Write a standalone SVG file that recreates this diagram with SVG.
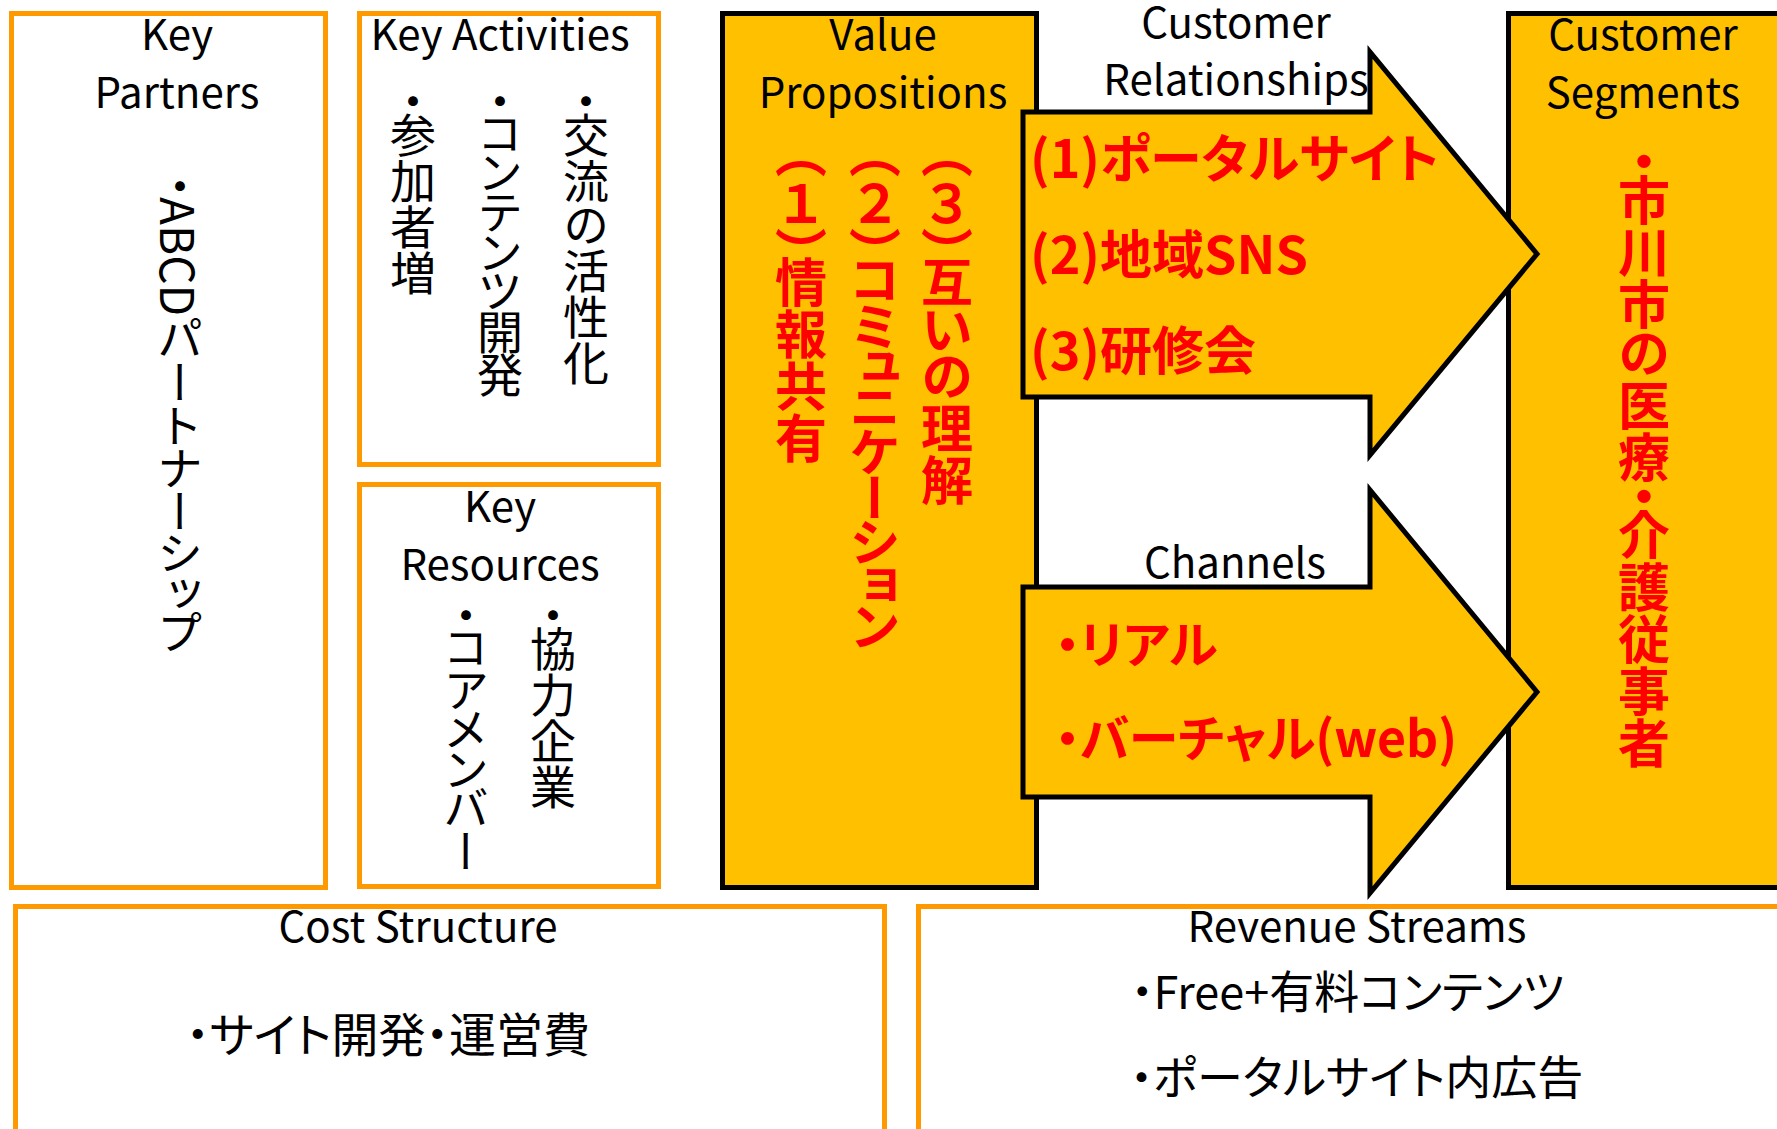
<svg xmlns="http://www.w3.org/2000/svg" width="1777" height="1129" viewBox="0 0 1777 1129">
<style>
.box{fill:#fff;stroke:#FF9900;stroke-width:5}
.yel{fill:#FFC000;stroke:#000;stroke-width:5;stroke-linejoin:miter}
text{font-family:"Noto Sans CJK JP","Noto Sans CJK SC",sans-serif;fill:#000}
.t{font-size:42px;text-anchor:middle}
.v{font-size:46px;writing-mode:vertical-rl;font-feature-settings:"vpal"}
.vr{font-size:52px;writing-mode:vertical-rl;font-feature-settings:"vpal";fill:#FF0000;font-weight:bold}
.hr{font-size:52px;fill:#FF0000;font-weight:bold;font-feature-settings:"palt"}
.hc{font-size:50px;fill:#FF0000;font-weight:bold;font-feature-settings:"palt"}
.hb{font-feature-settings:"palt"}
</style>
<rect width="1777" height="1129" fill="#fff"/>
<g id="key-partners">
<rect class="box" x="11.5" y="13.5" width="314" height="874"/>
<text class="t" x="177" y="50">Key</text>
<text class="t" x="177" y="108">Partners</text>
<text class="v" x="180" y="174">・ABCDパートナーシップ</text>
</g>
<g id="key-activities">
<rect class="box" x="359.5" y="13.5" width="299" height="451"/>
<text class="t" x="500" y="50">Key Activities</text>
<text class="v" x="586" y="89">・交流の活性化</text>
<text class="v" x="500" y="89" letter-spacing="-2.3">・コンテンツ開発</text>
<text class="v" x="413" y="89">・参加者増</text>
</g>
<g id="key-resources">
<rect class="box" x="359.5" y="484.5" width="299" height="402"/>
<text class="t" x="500" y="522">Key</text>
<text class="t" x="500" y="580">Resources</text>
<text class="v" x="553" y="603">・協力企業</text>
<text class="v" x="466" y="603" letter-spacing="-1.8">・コアメンバー</text>
</g>
<g id="value-propositions">
<rect class="yel" x="722.5" y="13.5" width="314" height="874"/>
<text class="t" x="883" y="50">Value</text>
<text class="t" x="883" y="108">Propositions</text>
<text class="vr" x="801" y="150">（<tspan dy="3">１</tspan><tspan dy="3">）情報共有</tspan></text>
<text class="vr" x="875" y="150">（<tspan dy="3">２</tspan><tspan dy="3">）</tspan><tspan letter-spacing="-2.8">コミュニケーション</tspan></text>
<text class="vr" x="947" y="150">（<tspan dy="3">３</tspan><tspan dy="3">）互いの理解</tspan></text>
</g>
<g id="customer-segments">
<rect class="yel" x="1508.5" y="13.5" width="300" height="874"/>
<text class="t" x="1643" y="50">Customer</text>
<text class="t" x="1643" y="108">Segments</text>
<text class="vr" x="1644" y="148">・市川市の医療・介護従事者</text>
</g>
<g id="customer-relationships">
<text class="t" x="1236" y="38">Customer</text>
<text class="t" x="1236" y="95">Relationships</text>
<path class="yel" d="M1023,112 L1370,112 L1370,52 L1537,254 L1370,455 L1370,397 L1023,397 Z"/>
<text class="hr" x="1030" y="178">(1)ポータルサイト</text>
<text class="hr" x="1030" y="274">(2)地域SNS</text>
<text class="hr" x="1030" y="370">(3)研修会</text>
</g>
<g id="channels">
<text class="t" x="1235" y="578">Channels</text>
<path class="yel" d="M1023,587 L1370,587 L1370,490 L1537,692 L1370,893 L1370,797 L1023,797 Z"/>
<text class="hc" x="1055" y="663">・リアル</text>
<text class="hc" x="1055" y="757">・バーチャル(web)</text>
</g>
<g id="cost-structure">
<rect class="box" x="15.5" y="906.5" width="869" height="300"/>
<text class="t" x="418" y="942">Cost Structure</text>
<text class="hb" x="186" y="1052" font-size="47">・サイト開発・運営費</text>
</g>
<g id="revenue-streams">
<rect class="box" x="918.5" y="906.5" width="900" height="300"/>
<text class="t" x="1357" y="942">Revenue Streams</text>
<text class="hb" x="1131" y="1009" font-size="45">・Free+有料コンテンツ</text>
<text class="hb" x="1130" y="1094" font-size="46">・ポータルサイト内広告</text>
</g>
<g id="connectors"></g>
</svg>
